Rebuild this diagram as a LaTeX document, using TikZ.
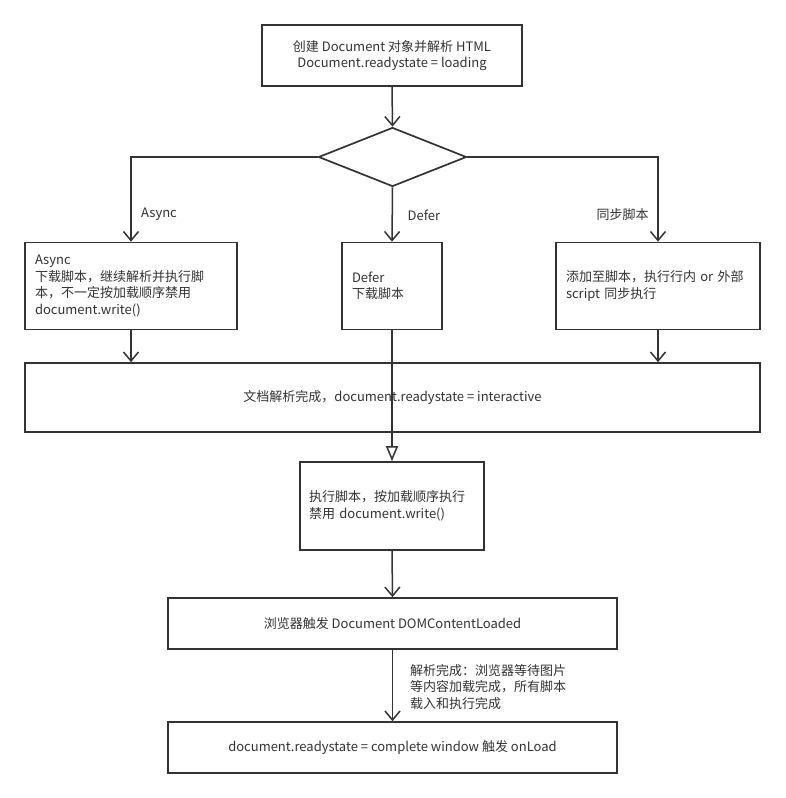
\documentclass[tikz,border=0pt]{standalone}
\usepackage{fontspec}
\setmainfont{Noto Sans CJK SC}
\usetikzlibrary{arrows.meta,shapes.geometric}
\definecolor{ink}{HTML}{333333}
\begin{document}
\begin{tikzpicture}[x=1pt,y=-1pt,
  every node/.style={font=\fontsize{13}{16.5}\selectfont, text=ink},
  box/.style={draw=ink, line width=1.7pt, rectangle, inner ysep=0pt, inner xsep=10pt},
  lbox/.style={box, align=left},
  cbox/.style={box, align=center},
  arr/.style={draw=ink, line width=1.5pt, -{Straight Barb[length=9pt,width=15pt,line width=1.5pt]}},
  tri/.style={draw=ink, line width=1.5pt, -{Triangle[open,length=15pt,width=12pt,line width=1.5pt,fill=white]}},
  lbl/.style={inner sep=0pt, anchor=west}]
\useasboundingbox[fill=white] (0,0) rectangle (785,798);

\node[cbox, minimum width=260pt, minimum height=61pt] (top) at (392,55.5)
  {创建 Document 对象并解析 HTML\\Document.readystate = loading};
\node[draw=ink, line width=1.7pt, diamond, inner sep=0pt, minimum width=148pt, minimum height=59pt] (dia) at (392.5,157) {};

\node[lbox, minimum width=212pt, minimum height=87pt, text width=192pt] (async) at (131,286)
  {Async\\下载脚本，继续解析并执行脚\\本，不一定按加载顺序禁用\\document.write()};
\node[lbox, minimum width=100pt, minimum height=87pt, text width=80pt] (defer) at (392,286)
  {Defer\\下载脚本};
\node[lbox, minimum width=204pt, minimum height=87pt, text width=184pt] (sync) at (658,286)
  {添加至脚本，执行行内 or 外部\\script 同步执行};

\node[cbox, minimum width=735pt, minimum height=69pt] (big) at (392.5,397.5)
  {文档解析完成，document.readystate = interactive};
\node[lbox, minimum width=184pt, minimum height=88pt, text width=166pt, inner xsep=9pt] (exec) at (392,506)
  {执行脚本，按加载顺序执行\\禁用 document.write()};
\node[cbox, minimum width=449pt, minimum height=51pt] (dom) at (392.5,623.5)
  {浏览器触发 Document DOMContentLoaded};
\node[cbox, minimum width=449pt, minimum height=51pt] (final) at (392.5,747.5)
  {document.readystate = complete window 触发 onLoad};

\node[lbl] (la) at (141,214) {Async};
\node[lbl] (ld) at (407.5,215) {Defer};
\node[lbl] (ls) at (596.5,215) {同步脚本};
\node[lbl, align=left] (lf) at (410,687) {解析完成：浏览器等待图片\\等内容加载完成，所有脚本\\载入和执行完成};

\draw[arr] (top.south) -- (dia.north);
\draw[arr] (dia.west) -| (async.north);
\draw[arr] (dia.south) -- (defer.north);
\draw[arr] (dia.east) -| (sync.north);
\draw[arr] (async.south) -- (async.south |- big.north);
\draw[arr] (sync.south) -- (sync.south |- big.north);
\draw[tri] (defer.south) -- (exec.north);
\draw[arr] (exec.south) -- (dom.north);
\draw[arr] (dom.south) -- (final.north);
\end{tikzpicture}
\end{document}
